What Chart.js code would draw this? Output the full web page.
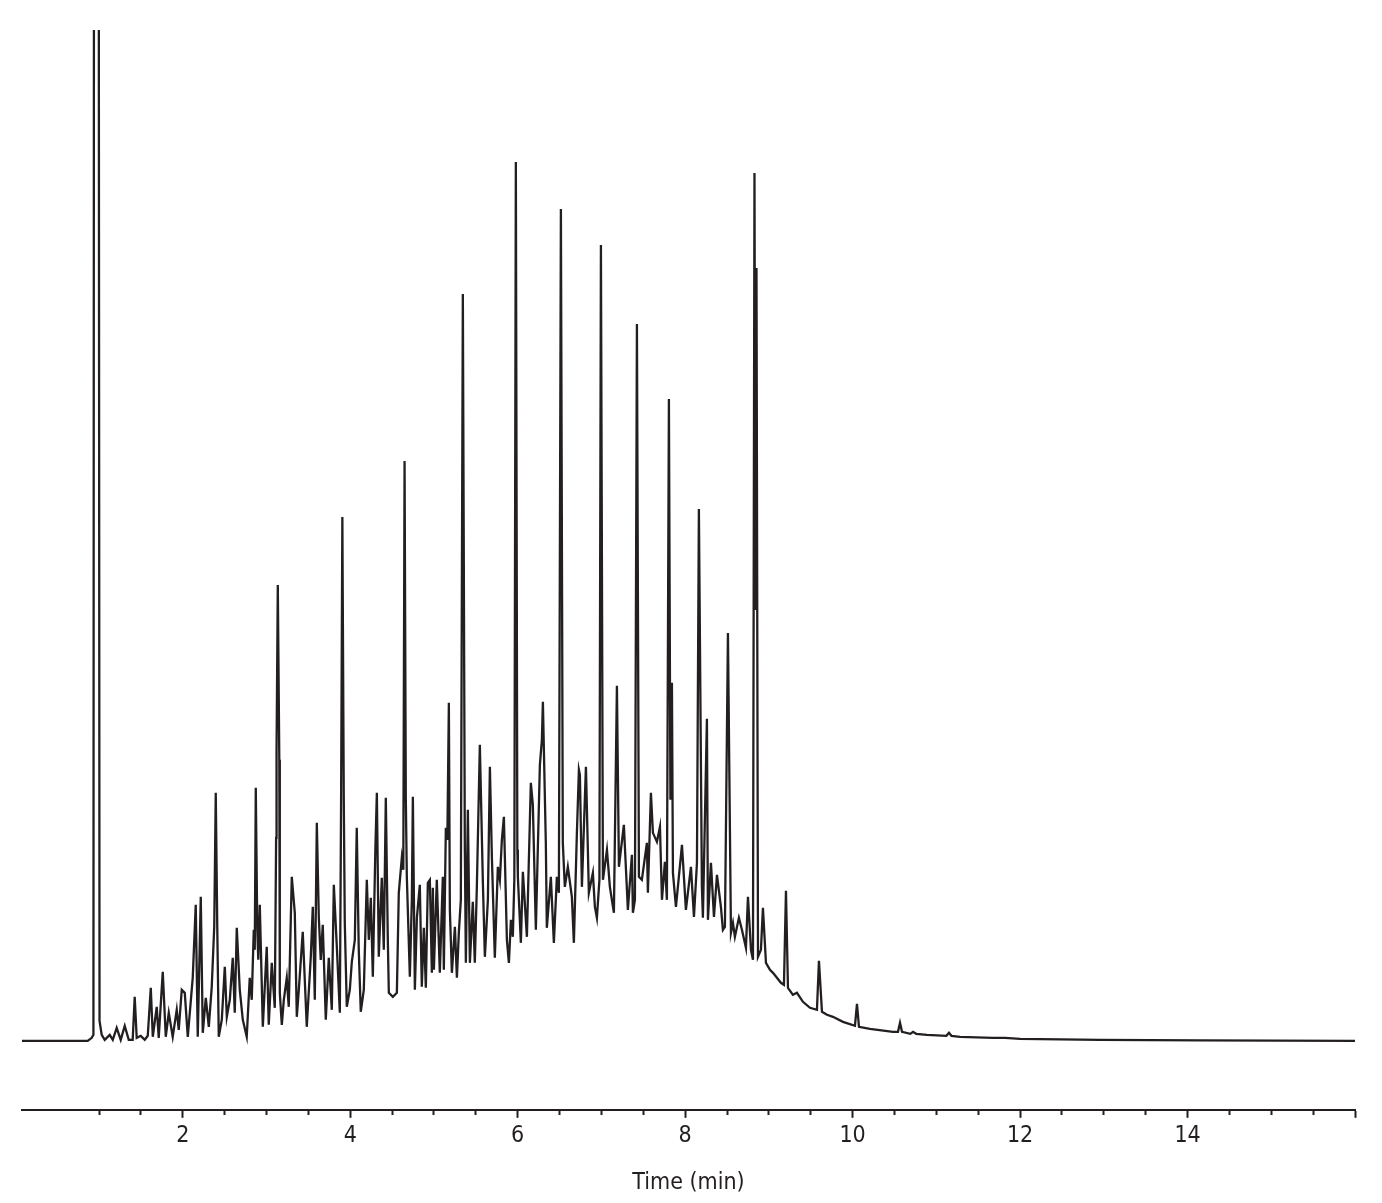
<!DOCTYPE html>
<html>
<head>
<meta charset="utf-8">
<title>Chromatogram</title>
<script src="https://cdn.jsdelivr.net/npm/chart.js@4.4.0/dist/chart.umd.min.js"></script>
<style>
    html, body { margin: 0; padding: 0; background: #fff; }
    canvas { display: block; }
</style>
</head>
<body>
<canvas id="chart" width="1382" height="1203"></canvas>
<script>
// retention time (min) and detector response (arbitrary counts)
const retentionTimes = [
    0.08, 0.865, 0.913, 0.933, 0.940, 0.996, 1.006, 1.032, 1.068, 1.128, 1.164, 1.211, 1.259, 1.307, 1.355,
    1.402, 1.426, 1.450, 1.498, 1.546, 1.582, 1.618, 1.642, 1.689, 1.713, 1.761, 1.797, 1.833, 1.880, 1.928,
    1.952, 1.988, 2.024, 2.060, 2.119, 2.155, 2.179, 2.215, 2.239, 2.275, 2.311, 2.346, 2.376, 2.394, 2.412,
    2.430, 2.466, 2.502, 2.526, 2.562, 2.597, 2.621, 2.645, 2.681, 2.717, 2.764, 2.800, 2.824, 2.848, 2.860,
    2.872, 2.890, 2.902, 2.920, 2.956, 3.003, 3.027, 3.063, 3.099, 3.115, 3.120, 3.135, 3.153, 3.159, 3.183,
    3.207, 3.242, 3.266, 3.302, 3.338, 3.362, 3.386, 3.433, 3.481, 3.529, 3.553, 3.577, 3.601, 3.625, 3.648,
    3.672, 3.708, 3.744, 3.780, 3.804, 3.840, 3.876, 3.891, 3.906, 3.923, 3.935, 3.959, 3.995, 4.019, 4.055,
    4.078, 4.102, 4.126, 4.162, 4.198, 4.222, 4.246, 4.270, 4.300, 4.318, 4.341, 4.377, 4.401, 4.425, 4.449,
    4.461, 4.509, 4.557, 4.580, 4.616, 4.634, 4.649, 4.664, 4.676, 4.712, 4.736, 4.748, 4.772, 4.796, 4.831,
    4.855, 4.879, 4.903, 4.927, 4.951, 4.975, 4.987, 4.999, 5.034, 5.070, 5.106, 5.118, 5.142, 5.160, 5.178,
    5.190, 5.214, 5.250, 5.274, 5.297, 5.321, 5.345, 5.369, 5.381, 5.405, 5.429, 5.464, 5.488, 5.512, 5.548,
    5.584, 5.608, 5.644, 5.668, 5.692, 5.727, 5.763, 5.787, 5.811, 5.835, 5.871, 5.895, 5.919, 5.942, 5.960,
    5.978, 5.996, 6.002, 6.038, 6.062, 6.110, 6.157, 6.181, 6.217, 6.265, 6.289, 6.301, 6.336, 6.348, 6.396,
    6.432, 6.468, 6.492, 6.516, 6.539, 6.563, 6.599, 6.647, 6.671, 6.707, 6.731, 6.743, 6.767, 6.815, 6.850,
    6.898, 6.922, 6.946, 6.976, 6.994, 7.018, 7.066, 7.101, 7.149, 7.185, 7.209, 7.268, 7.316, 7.364, 7.376,
    7.400, 7.424, 7.448, 7.483, 7.543, 7.555, 7.591, 7.615, 7.663, 7.699, 7.723, 7.758, 7.782, 7.806, 7.824,
    7.842, 7.854, 7.890, 7.962, 8.009, 8.069, 8.105, 8.141, 8.164, 8.200, 8.212, 8.260, 8.272, 8.308, 8.344,
    8.380, 8.427, 8.451, 8.475, 8.511, 8.547, 8.571, 8.594, 8.642, 8.678, 8.726, 8.750, 8.786, 8.810, 8.828,
    8.840, 8.852, 8.870, 8.905, 8.929, 8.965, 9.013, 9.049, 9.096, 9.144, 9.180, 9.204, 9.228, 9.287, 9.335,
    9.407, 9.491, 9.574, 9.598, 9.634, 9.694, 9.765, 9.885, 10.028, 10.052, 10.076, 10.207, 10.482, 10.542, 10.566,
    10.590, 10.690, 10.721, 10.760, 10.888, 11.120, 11.151, 11.180, 11.283, 11.677, 11.820, 12.000, 12.955, 14.150, 16.0
];
const response = [
    0, 0, 3, 6, 1200, 1200, 20, 6, 1, 6, 1, 13, 1, 15, 1,
    1, 44, 3, 5, 1, 5, 53, 4, 34, 3, 69, 4, 28, 4, 31,
    11, 51, 48, 4, 63, 136, 4, 144, 8, 43, 14, 54, 114, 248, 114,
    4, 21, 74, 24, 41, 83, 28, 113, 51, 21, 4, 63, 41, 111, 91,
    253, 111, 81, 136, 14, 94, 16, 78, 33, 203, 289, 456, 281, 48, 16,
    41, 63, 34, 164, 128, 24, 51, 109, 14, 84, 134, 41, 218, 123, 81,
    116, 21, 83, 31, 156, 94, 28, 241, 524, 241, 118, 34, 51, 79, 101,
    213, 91, 29, 51, 161, 101, 143, 64, 191, 248, 84, 163, 91, 243, 101,
    48, 44, 48, 148, 183, 171, 580, 241, 164, 64, 141, 244, 51, 123, 156,
    54, 113, 53, 158, 161, 68, 153, 71, 161, 68, 164, 71, 213, 201, 338,
    131, 68, 114, 63, 108, 141, 747, 191, 78, 231, 78, 139, 78, 153, 296,
    159, 84, 141, 274, 183, 83, 174, 161, 201, 224, 101, 78, 121, 104, 161,
    879, 191, 164, 98, 169, 104, 258, 236, 111, 276, 301, 339, 198, 113, 164,
    98, 164, 148, 832, 198, 154, 174, 144, 98, 208, 271, 266, 154, 274, 148,
    168, 134, 123, 161, 796, 161, 191, 154, 128, 355, 174, 216, 131, 186, 128,
    141, 717, 164, 161, 198, 148, 248, 208, 199, 214, 141, 179, 141, 642, 241,
    358, 168, 134, 196, 131, 174, 124, 178, 532, 154, 123, 322, 121, 178, 124,
    166, 134, 111, 114, 408, 108, 118, 104, 123, 111, 93, 144, 91, 81, 868,
    431, 773, 84, 91, 133, 78, 71, 68, 63, 58, 56, 150, 53, 46, 48,
    39, 33, 31, 80, 29, 26, 24, 19, 15, 37, 14, 12, 9, 9, 18,
    9, 7, 9, 7, 6, 5, 8, 5, 4, 3, 3, 2, 1, 0.5, 0
];

const labelledTicks = [2, 4, 6, 8, 10, 12, 14];
const majorStep = 2;
const minorStep = 0.5;
const timeRange = [0.08, 16];
const responseRange = [-69, 1011];

const ink = '#231f20';
const axisFont = {family: "'Liberation Sans Narrow', 'DejaVu Sans Condensed', 'DejaVu Sans', sans-serif", size: 23};

let points = retentionTimes.map((t, i) => ({x: t, y: response[i]}));

let isMajor = value => Math.abs(value / majorStep - Math.round(value / majorStep)) < 1e-6;

new Chart(document.getElementById('chart'), {
    type: 'line',
    data: {
        datasets: [{
            data: points,
            borderColor: ink,
            borderWidth: 2.3,
            borderJoinStyle: 'miter',
            pointRadius: 0,
            tension: 0,
            fill: false
        }]
    },
    options: {
        responsive: false,
        animation: false,
        devicePixelRatio: 1,
        layout: {padding: {left: 22, right: 27, top: 30, bottom: 6}},
        plugins: {
            legend: {display: false},
            tooltip: {enabled: false}
        },
        scales: {
            x: {
                type: 'linear',
                min: timeRange[0],
                max: timeRange[1],
                afterBuildTicks: axis => {
                    axis.ticks = axis.ticks.filter(t => Math.abs(t.value / minorStep - Math.round(t.value / minorStep)) < 1e-6);
                },
                grid: {
                    drawOnChartArea: false,
                    tickLength: 8,
                    tickWidth: 2,
                    tickColor: ink,
                    tickBorderDash: ctx => (ctx.tick && isMajor(ctx.tick.value)) ? [] : [4, 20]
                },
                border: {display: true, color: ink, width: 2},
                ticks: {
                    stepSize: minorStep,
                    autoSkip: false,
                    maxRotation: 0,
                    padding: 4,
                    color: ink,
                    font: axisFont,
                    callback: value => labelledTicks.includes(value) ? String(value) : ''
                },
                title: {
                    display: true,
                    text: 'Time (min)',
                    color: ink,
                    font: axisFont,
                    padding: {top: 16, bottom: 0}
                }
            },
            y: {
                display: false,
                min: responseRange[0],
                max: responseRange[1]
            }
        }
    }
});
</script>
</body>
</html>
